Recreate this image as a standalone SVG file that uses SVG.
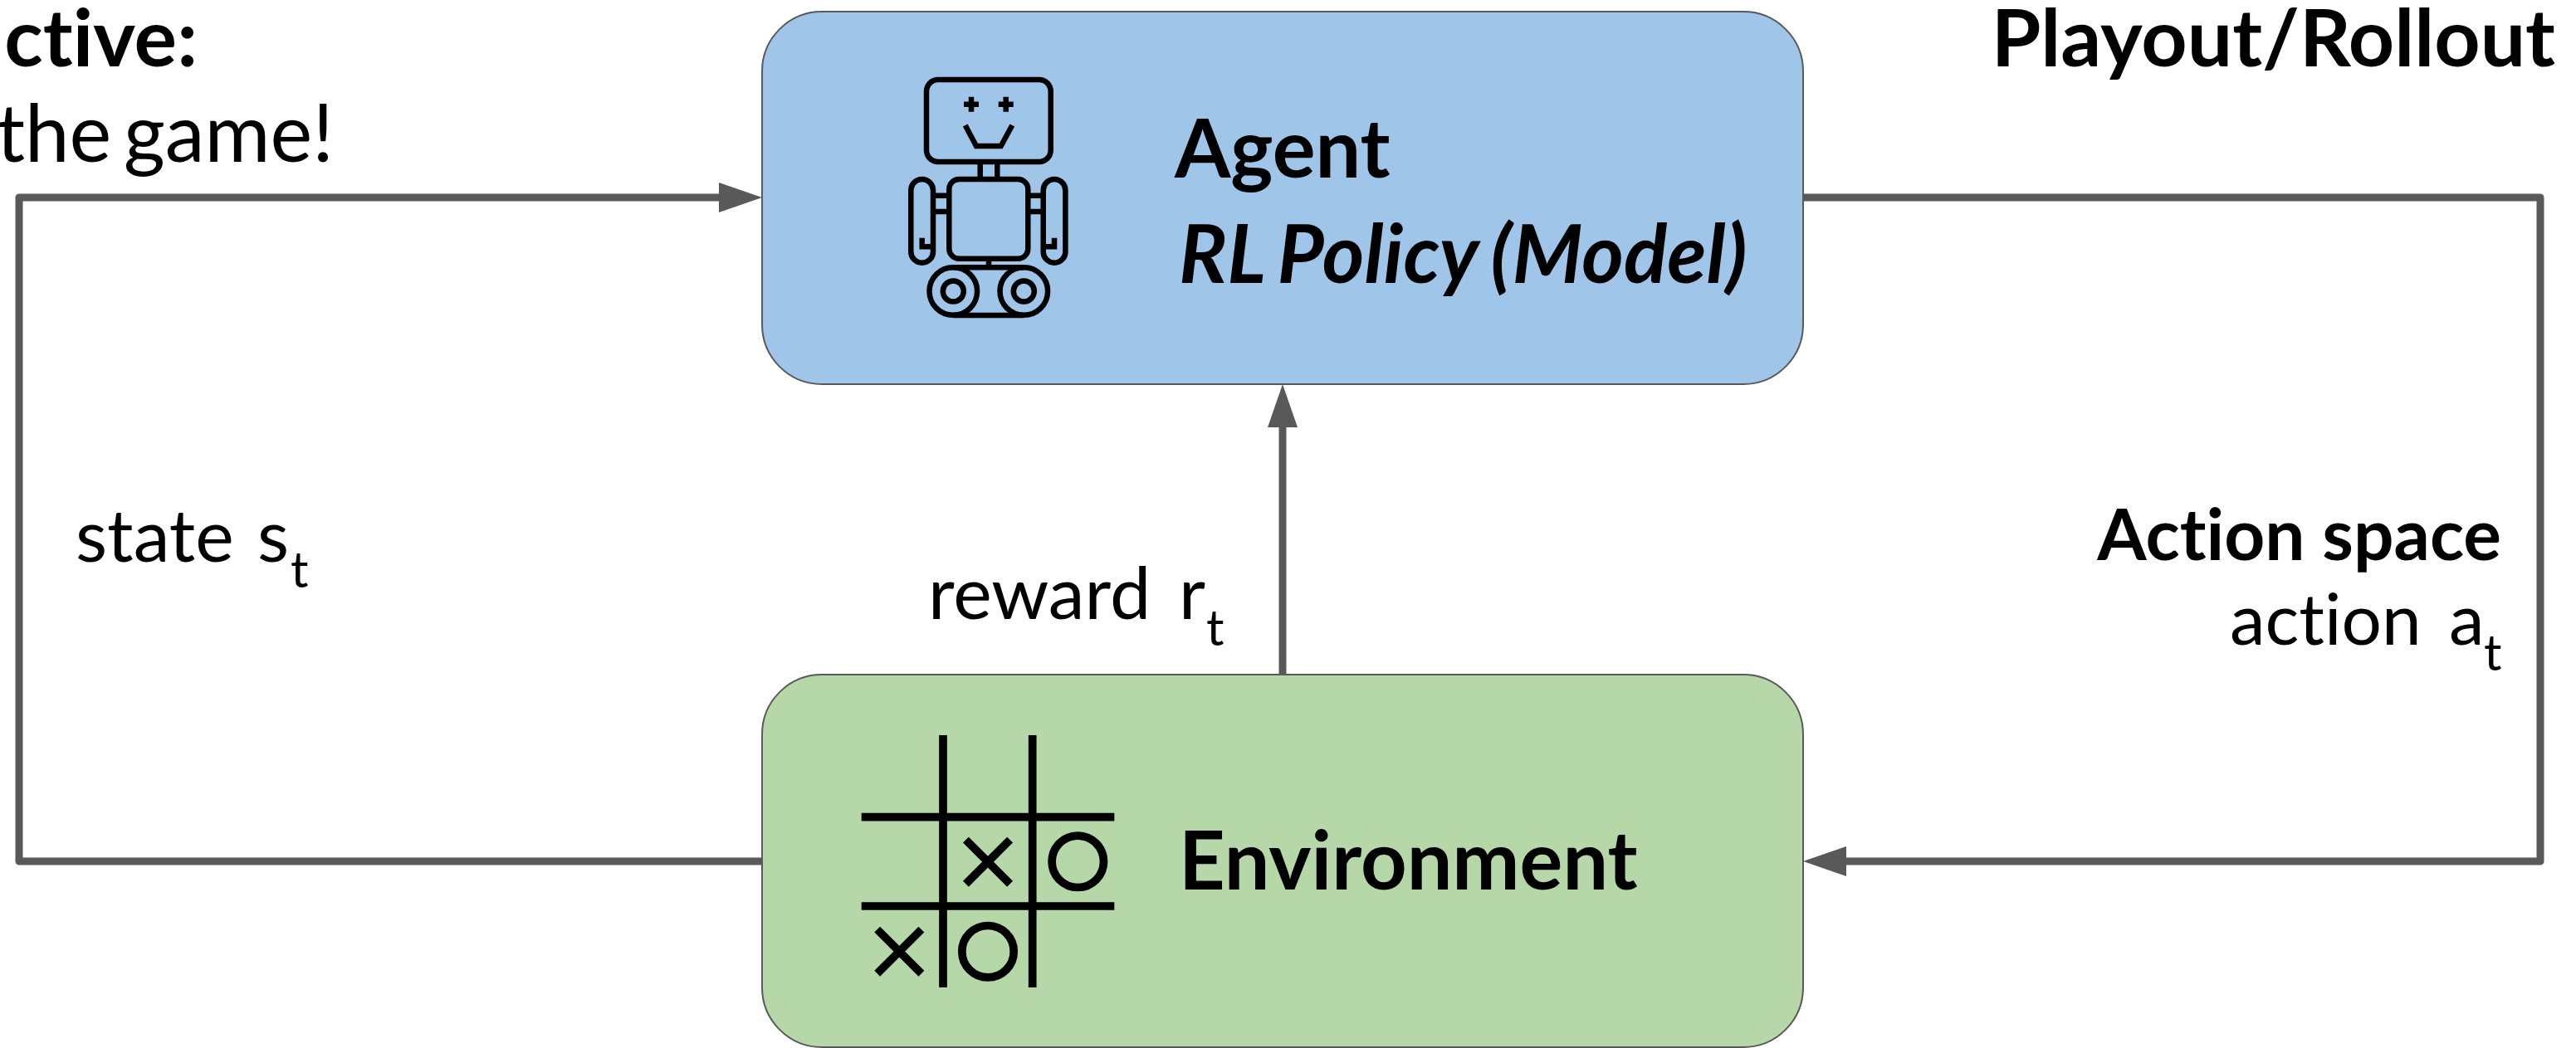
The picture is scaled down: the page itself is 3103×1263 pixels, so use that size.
<svg xmlns="http://www.w3.org/2000/svg" width="3103" height="1263" viewBox="0 0 3103 1263">
<defs>
<style>
text{font-family:Lato,"Open Sans",sans-serif;fill:#000;font-variant-ligatures:none}
.t{font-size:88px}
.b{font-weight:700;font-size:96.500px}
.n{font-weight:700;font-size:97px}
.s{font-size:60px}
.box{stroke:#595959;stroke-width:2}
.c{fill:none;stroke:#595959;stroke-width:9;stroke-linejoin:round}
.i{fill:none;stroke:#000;stroke-width:6.5}
.g{fill:none;stroke:#000;stroke-width:9.7}
</style>
<marker id="arr" markerUnits="userSpaceOnUse" markerWidth="52" markerHeight="36" refX="2" refY="18" orient="auto"><path d="M0 0L52 18L0 36Z" fill="#595959"/></marker>
</defs>
<rect width="3103" height="1263" fill="#fff"/>
<g id="connectors">
<path class="c" d="M918 1038H23V238H868" marker-end="url(#arr)"/>
<path class="c" d="M2172 238H3060V1038H2222" marker-end="url(#arr)"/>
<path class="c" d="M1545 813V513" marker-end="url(#arr)"/>
</g>
<g id="agent">
<rect class="box" x="918" y="14" width="1254" height="449" rx="72" fill="#9fc5e8"/>
<g class="i">
<rect x="1116" y="96" width="149.7" height="99" rx="14"/>
<path d="M1161 125.7h18M1170 116.7v18M1202.700 125.700h18M1211.700 116.700v18"/>
<path d="M1162.700 151L1176 176H1205.700L1219.300 151"/>
<path d="M1180.700 195V216M1201.300 195V216"/>
<rect x="1143.300" y="216" width="95" height="95.700" rx="12"/>
<rect x="1097.300" y="216" width="26.700" height="100.700" rx="13.300"/>
<rect x="1256.700" y="216" width="26.700" height="100.700" rx="13.300"/>
<path d="M1124 235.700H1143.300M1124 255H1143.300M1238.300 235.700H1256.700M1238.300 255H1256.700"/>
<path d="M1110.700 286.700V297.300H1121M1270 286.700V297.300H1260"/>
<path d="M1191 311.700V322"/>
<path d="M1148.300 322.200H1233.300M1148.300 380H1233.300"/>
<circle cx="1148.300" cy="351" r="28.800"/>
<circle cx="1233.300" cy="351" r="28.800"/>
<circle cx="1148.300" cy="351" r="12.500"/>
<circle cx="1233.300" cy="351" r="12.500"/>
</g>
<text class="n" x="1415" y="214">Agent</text>
<text class="n" x="1420" y="341" font-style="italic" style="word-spacing:-5px">RL Policy (Model)</text>
</g>
<g id="environment">
<rect class="box" x="918" y="813" width="1254" height="449" rx="72" fill="#b6d7a8"/>
<g class="g">
<path d="M1136 886V1190M1243.700 886V1190M1037.700 984.700H1342.300M1037.700 1092H1342.300"/>
<path d="M1163.400 1012.100L1216.600 1065.300M1216.600 1012.100L1163.400 1065.300M1056.700 1120.100L1109.900 1173.300M1109.900 1120.100L1056.700 1173.300"/>
<circle cx="1298.300" cy="1038.300" r="31.200"/>
<circle cx="1190" cy="1146.700" r="31.200"/>
</g>
<text class="n" x="1420" y="1072">Environment</text>
</g>
<g id="labels">
<text class="b" x="238" y="80" text-anchor="end">ctive:</text>
<text class="t" x="402" y="195" text-anchor="end" style="font-size:96px;word-spacing:-10px">the game!</text>
<text class="b" x="3078" y="80" text-anchor="end">Playout/Rollout</text>
<text class="t" x="91" y="677">state <tspan x="310">s</tspan></text><text class="s" x="350" y="708">t</text>
<text class="t" x="1118" y="746">reward <tspan x="1420">r</tspan></text><text class="s" x="1453" y="778">t</text>
<text class="b" x="3013" y="675" text-anchor="end" style="font-size:85.500px">Action space</text>
<text class="t" x="2686" y="777" style="font-size:85.500px">action <tspan x="2950">a</tspan></text><text class="s" x="2992" y="808">t</text>
</g>
</svg>
